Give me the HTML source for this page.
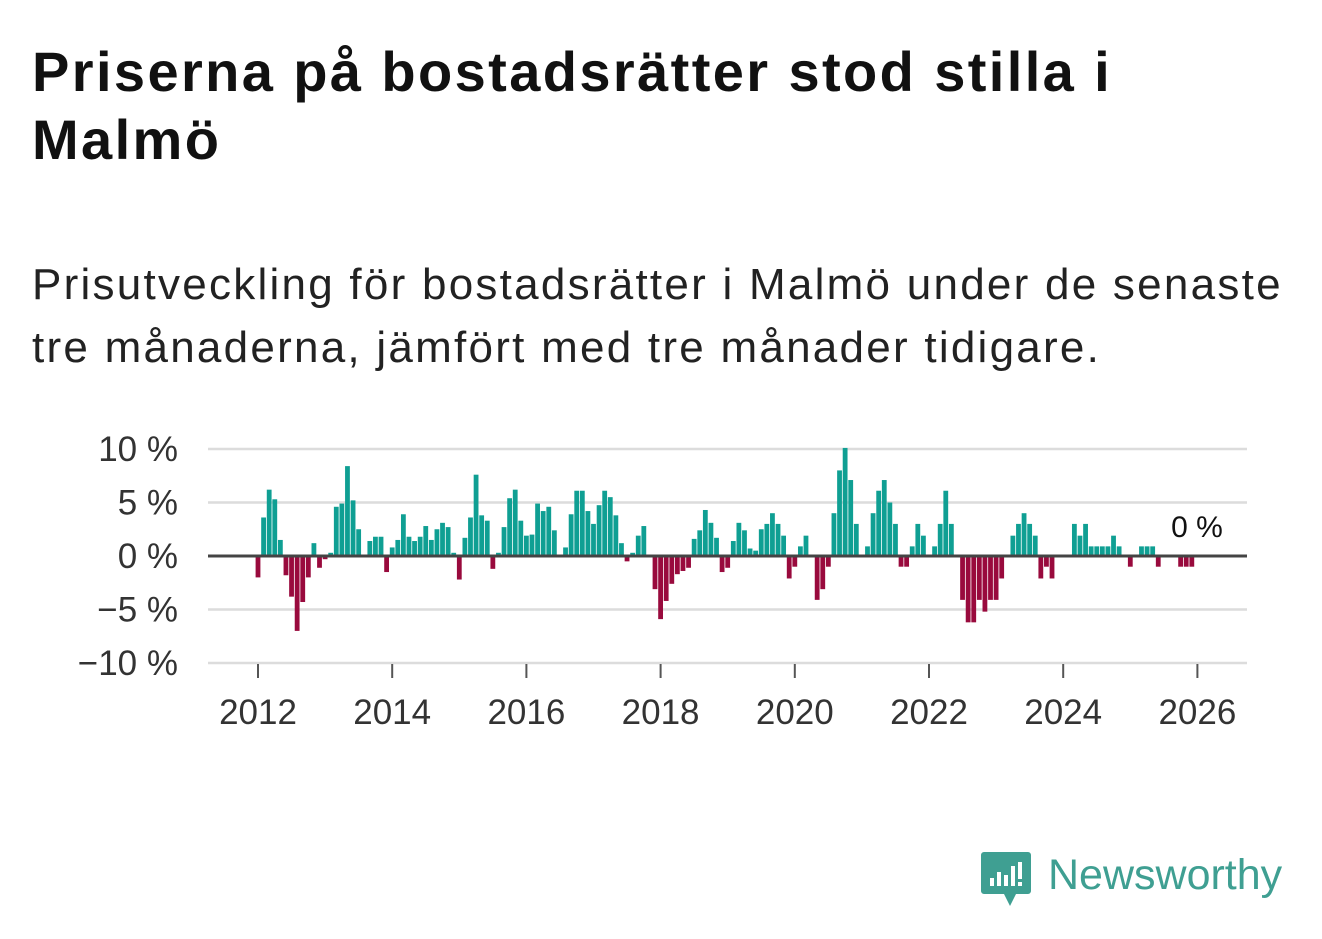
<!DOCTYPE html>
<html><head><meta charset="utf-8"><style>
body{margin:0;width:1322px;height:939px;background:#fff;font-family:"Liberation Sans","DejaVu Sans",sans-serif;overflow:hidden;position:relative}
h1{position:absolute;left:32px;top:38px;margin:0;font-size:56px;line-height:68px;font-weight:bold;color:#111;letter-spacing:2.4px;white-space:nowrap}
.sub{position:absolute;left:32px;top:253px;margin:0;font-size:44px;line-height:63px;color:#222;letter-spacing:2.25px;white-space:nowrap}
svg{position:absolute;left:0;top:0}
</style></head><body>
<h1>Priserna på bostadsrätter stod stilla i<br>Malmö</h1>
<p class="sub">Prisutveckling för bostadsrätter i Malmö under de senaste<br>tre månaderna, jämfört med tre månader tidigare.</p>
<svg id="chart" width="1322" height="939"></svg>
<script>
const startYear = 2012;
const values = [
-2,3.6,6.2,5.3,1.5,-1.8,-3.8,-7,-4.3,-2,1.2,-1.1,
-0.3,0.3,4.6,4.9,8.4,5.2,2.5,0,1.4,1.8,1.8,-1.5,
0.8,1.5,3.9,1.8,1.4,1.8,2.8,1.5,2.5,3.1,2.7,0.3,
-2.2,1.7,3.6,7.6,3.8,3.3,-1.2,0.3,2.7,5.4,6.2,3.3,
1.9,2,4.9,4.2,4.6,2.4,0,0.8,3.9,6.1,6.1,4.2,
3,4.75,6.1,5.5,3.8,1.2,-0.5,0.3,1.9,2.8,0,-3.1,
-5.9,-4.2,-2.6,-1.7,-1.4,-1.1,1.6,2.4,4.3,3.1,1.7,-1.5,
-1.1,1.4,3.1,2.4,0.7,0.5,2.5,3,4,3,1.9,-2.1,
-1,0.9,1.9,0,-4.1,-3.1,-1,4,8,10.1,7.1,3,
0,0.9,4,6.1,7.1,5,3,-1,-1,0.9,3,1.9,
0,0.9,3,6.1,3,0,-4.1,-6.2,-6.2,-4.1,-5.2,-4.1,
-4.1,-2.1,0,1.9,3,4,3,1.9,-2.1,-1,-2.1,0,
0,0,3,1.9,3,0.9,0.9,0.9,0.9,1.9,0.9,0,
-1,0,0.9,0.9,0.9,-1,0,0,0,-1,-1,-1
];
const yTicks = [10,5,0,-5,-10];
const yLabels = ["10 %","5 %","0 %","−5 %","−10 %"];
const xYears = [2012,2014,2016,2018,2020,2022,2024,2026];
const lastLabel = "0 %";

const NS="http://www.w3.org/2000/svg";
const svg=document.getElementById('chart');
const X0=208,X1=1247;
function xm(m){return 258+m*(67.1/12);}
function yv(v){return 556-v*10.7;}
function mk(t,a){const e=document.createElementNS(NS,t);for(const k in a)e.setAttribute(k,a[k]);svg.appendChild(e);return e;}
yTicks.forEach((t,i)=>{
  if(t!==0){const g=mk('line',{x1:X0,x2:X1,y1:yv(t),y2:yv(t),stroke:'#dcdcdc','stroke-width':2.5});
  
  }
  const l=mk('text',{x:178,y:yv(t)+12,'text-anchor':'end','font-size':35,fill:'#333','font-family':'Liberation Sans, sans-serif'});
  l.textContent=yLabels[i];
  
  
});
xYears.forEach(yr=>{
  const x=xm((yr-startYear)*12);
  const t=mk('line',{x1:x,x2:x,y1:664,y2:678,stroke:'#555','stroke-width':2});
  
  
  const l=mk('text',{x:x,y:724,'text-anchor':'middle','font-size':35,fill:'#333','font-family':'Liberation Sans, sans-serif'});
  l.textContent=yr;
  
  
});
values.forEach((v,m)=>{
  if(v===0)return;
  const x=xm(m)-2.4,y0=yv(0),y1=yv(v);
  const r=mk('rect',{x:x,width:4.8,y:Math.min(y0,y1),height:Math.abs(y1-y0),fill:v>0?'#0f9f93':'#990a3d'});
  
  
});
const z=mk('line',{x1:X0,x2:X1,y1:yv(0),y2:yv(0),stroke:'#444','stroke-width':3});


const ll=mk('text',{x:1197,y:537,'text-anchor':'middle','font-size':30,fill:'#111','font-family':'Liberation Sans, sans-serif'});
ll.textContent=lastLabel;


</script>
<svg width="1322" height="939" style="pointer-events:none">
<path d="M984 852 h44 a3 3 0 0 1 3 3 v36 a3 3 0 0 1 -3 3 h-12 l-6 12 l-6 -12 h-20 a3 3 0 0 1 -3 -3 v-36 a3 3 0 0 1 3 -3z" fill="#3f9f92"/>
<rect x="990" y="878" width="4" height="8" fill="#fff"/><rect x="997" y="872" width="4" height="14" fill="#fff"/><rect x="1004" y="875" width="4" height="11" fill="#fff"/><rect x="1011" y="866" width="4" height="20" fill="#fff"/><rect x="1018" y="862" width="4" height="17" fill="#fff"/><rect x="1018" y="882" width="4" height="4" fill="#fff"/>
<text x="1048" y="889" font-size="43" fill="#3f9f92" font-family="Liberation Sans, sans-serif">Newsworthy</text>
</svg>
</body></html>
